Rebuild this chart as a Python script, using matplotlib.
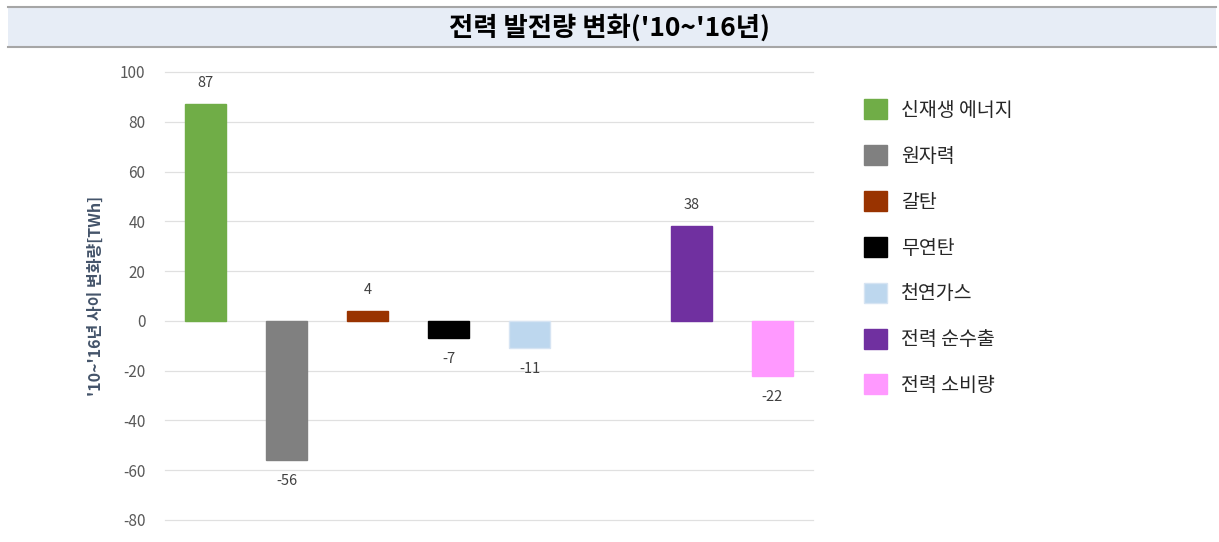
import matplotlib.pyplot as plt
from matplotlib.patches import Rectangle

plt.rcParams['font.family'] = ['Noto Sans CJK KR', 'DejaVu Sans']

# 전력 발전량 변화 ('10~'16년), TWh
labels = ["신재생 에너지", "원자력", "갈탄", "무연탄", "천연가스", "", "전력 순수출", "전력 소비량"]
values = [87, -56, 4, -7, -11, None, 38, -22]
colors = ["#70ad47", "#808080", "#993300", "#000000", "#bdd7ee", None, "#7030a0", "#ff99ff"]
yticks = list(range(-80, 101, 20))

fig = plt.figure(figsize=(12.19, 5.42), dpi=100)

# title banner
fig.patches.append(Rectangle((8 / 1219, 1 - 47 / 542), 1208 / 1219, 40 / 542,
                             transform=fig.transFigure, facecolor="#e7edf6",
                             edgecolor="none", zorder=0))
for yy in (7, 47):
    fig.add_artist(plt.Line2D([8 / 1219, 1216 / 1219], [1 - yy / 542, 1 - yy / 542],
                              transform=fig.transFigure, color="#a6a6a6", lw=1.5))
fig.text(0.5, 1 - 28 / 542, "전력 발전량 변화('10~'16년)", ha="center", va="center",
         fontsize=19, fontweight="bold", color="#000000")

ax = fig.add_axes([165 / 1219, 22 / 542, 648 / 1219, 448 / 542])
ax.set_xlim(-0.5, len(values) - 0.5)
ax.set_ylim(-80, 100)
ax.set_yticks(yticks)
ax.set_yticklabels([str(t) for t in yticks], color="#595959", fontsize=11)
ax.tick_params(axis="y", length=0, pad=14)
ax.set_xticks([])
for s in ax.spines.values():
    s.set_visible(False)
ax.grid(axis="y", color="#e0e0e0", lw=0.9)
for gl in ax.get_ygridlines():
    gl.set_clip_on(False)
ax.set_axisbelow(True)

handles = []
for i, (v, c, lab) in enumerate(zip(values, colors, labels)):
    if v is None:
        continue
    edge = "#d6e4f3" if c == "#bdd7ee" else c
    b = ax.bar(i, v, width=0.5, color=c, edgecolor=edge, lw=1, label=lab, zorder=2)
    handles.append(b)
    if v >= 0:
        ax.annotate(str(v), (i, v), xytext=(0, 10), textcoords="offset points",
                    ha="center", va="bottom", fontsize=10.5, color="#404040")
    else:
        ax.annotate(str(v), (i, v), xytext=(0, -10), textcoords="offset points",
                    ha="center", va="top", fontsize=10.5, color="#404040")

ax.set_ylabel("'10~'16년 사이 변화량[TWh]", fontsize=11.5, fontweight="semibold",
              color="#44546a", labelpad=12)

leg = fig.legend(handles=handles, loc="upper left",
                 bbox_to_anchor=(846 / 1219, 1 - 82 / 542), frameon=False,
                 fontsize=14, handlelength=1.2, handleheight=1.2,
                 labelspacing=1.25, handletextpad=0.72)
for t in leg.get_texts():
    t.set_color("#262626")

fig.savefig("out.png", dpi=100)
